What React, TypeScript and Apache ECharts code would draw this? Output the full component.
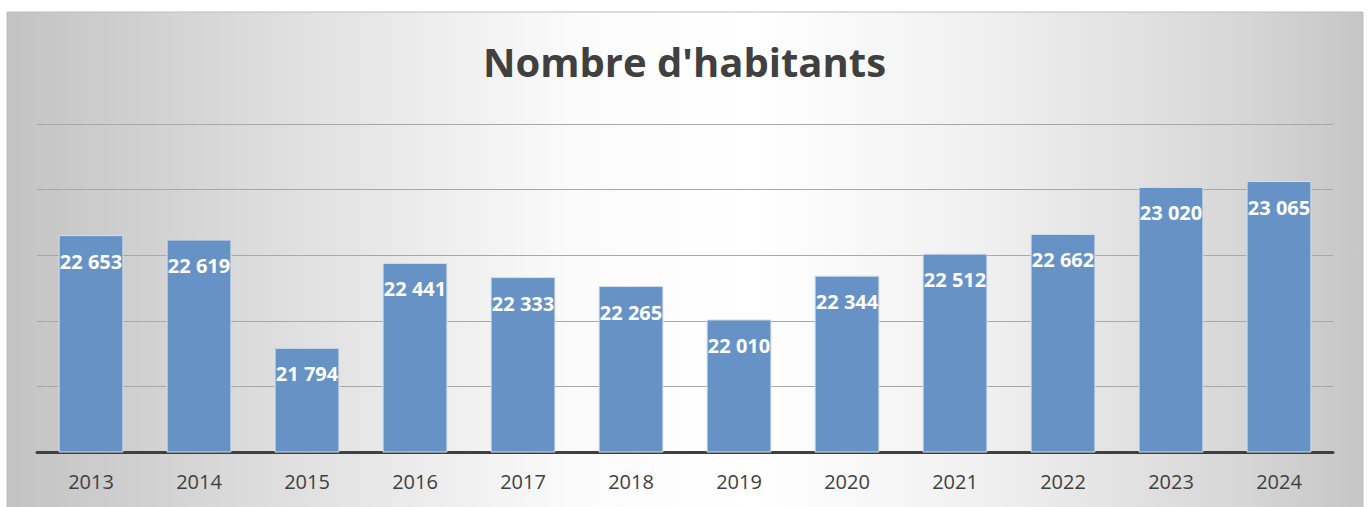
import React, { useEffect, useRef } from "react";
import * as echarts from "echarts";

const years = ["2013", "2014", "2015", "2016", "2017", "2018", "2019", "2020", "2021", "2022", "2023", "2024"];
const habitants = [22653, 22619, 21794, 22441, 22333, 22265, 22010, 22344, 22512, 22662, 23020, 23065];
const titleText = "Nombre d'habitants";

const fmt = (v: number) => {
  const s = String(v);
  return s.slice(0, s.length - 3) + " " + s.slice(s.length - 3);
};

export default function App() {
  const ref = useRef<HTMLDivElement>(null);
  useEffect(() => {
    document.body.style.margin = "0";
    const chart = echarts.init(ref.current!, undefined, { renderer: "svg" });
    chart.setOption({
      animation: false,
      backgroundColor: "#ffffff",
      graphic: [
        {
          type: "rect",
          z: -10,
          silent: true,
          shape: { x: 7, y: 12, width: 1356, height: 500 },
          style: {
            fill: new echarts.graphic.LinearGradient(0, 0, 1, 0, [
              { offset: 0, color: "#c3c3c3" },
              { offset: 0.2, color: "#dedede" },
              { offset: 0.42, color: "#fbfbfb" },
              { offset: 0.55, color: "#ffffff" },
              { offset: 0.72, color: "#f0f0f0" },
              { offset: 0.9, color: "#d8d8d8" },
              { offset: 1, color: "#c6c6c6" },
            ]),
            stroke: "#bdbdbd",
            lineWidth: 1,
          },
        },
      ],
      title: {
        text: titleText,
        left: "center",
        top: 36,
        textStyle: {
          fontFamily: "Open Sans",
          fontWeight: "bold",
          fontSize: 40,
          color: "#404040",
        },
      },
      grid: { left: 37, right: 36, top: 124, bottom: 55 },
      xAxis: {
        type: "category",
        data: years,
        axisLine: { show: true, lineStyle: { color: "#404040", width: 3 } },
        axisTick: { show: false },
        axisLabel: {
          fontFamily: "Open Sans",
          fontSize: 20,
          color: "#404040",
          margin: 19,
        },
      },
      yAxis: {
        type: "value",
        min: 21000,
        max: 23500,
        interval: 500,
        axisLabel: { show: false },
        axisLine: { show: false },
        axisTick: { show: false },
        splitLine: { lineStyle: { color: "#a8a8a8", width: 1 } },
      },
      series: [
        {
          type: "bar",
          data: habitants,
          barCategoryGap: "40%",
          itemStyle: {
            color: "#6692c5",
            borderColor: "#d3deec",
            borderWidth: 1,
          },
          label: {
            show: true,
            position: "insideTop",
            distance: 16,
            formatter: (p: any) => fmt(p.value),
            fontFamily: "Open Sans",
            fontWeight: "bold",
            fontSize: 20,
            color: "#ffffff",
          },
        },
      ],
    });
    return () => chart.dispose();
  }, []);
  return <div ref={ref} style={{ width: 1369, height: 507 }} />;
}
